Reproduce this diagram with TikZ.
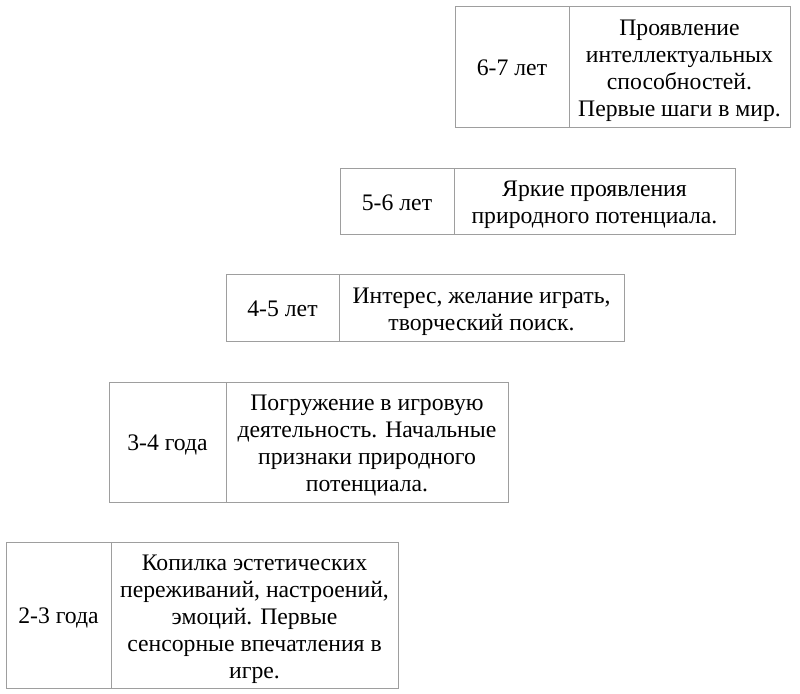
\documentclass[tikz,border=0pt]{standalone}
\usepackage{fontspec}
\setmainfont{Liberation Serif}
\newfontfamily\tnr{Liberation Serif}
\begin{document}
\begin{tikzpicture}[x=1pt,y=-1pt,
  cell/.style={draw=black!38, line width=0.9pt, inner sep=0pt},
  txt/.style={inner sep=0pt, align=center, text=black,
    font=\tnr\fontsize{23.7}{27}\selectfont}]
\useasboundingbox (0,0) rectangle (800,693);
% 6-7
\node[cell, minimum width=114pt, minimum height=121pt] (a67) at (512,66.5) {};
\node[cell, minimum width=221pt, minimum height=121pt] (b67) at (679.5,66.5) {};
\node[txt] (ta67) at ([yshift=-1.5pt]a67.center) {6-7 лет};
\node[txt] (tb67) at ([yshift=-4.25pt]b67.center) {Проявление\\интеллектуальных\\способностей.\\Первые шаги в мир.};
% 5-6
\node[cell, minimum width=114pt, minimum height=66pt] (a56) at (397,201) {};
\node[cell, minimum width=281pt, minimum height=66pt] (b56) at (594.5,201) {};
\node[txt] (ta56) at ([yshift=-1.5pt]a56.center) {5-6 лет};
\node[txt] (tb56) at ([yshift=-4.25pt]b56.center) {Яркие проявления\\природного потенциала.};
% 4-5
\node[cell, minimum width=113pt, minimum height=67pt] (a45) at (282.5,307.5) {};
\node[cell, minimum width=285pt, minimum height=67pt] (b45) at (481.5,307.5) {};
\node[txt] (ta45) at ([yshift=-1.5pt]a45.center) {4-5 лет};
\node[txt] (tb45) at ([yshift=-4.25pt]b45.center) {Интерес, желание играть,\\творческий поиск.};
% 3-4
\node[cell, minimum width=117pt, minimum height=120pt] (a34) at (167.5,442) {};
\node[cell, minimum width=282pt, minimum height=120pt] (b34) at (367,442) {};
\node[txt] (ta34) at ([yshift=-3pt]a34.center) {3-4 года};
\node[txt] (tb34) at ([yshift=-3.75pt]b34.center) {Погружение в игровую\\деятельность. Начальные\\признаки природного\\потенциала.};
% 2-3
\node[cell, minimum width=105pt, minimum height=146pt] (a23) at (58.5,615) {};
\node[cell, minimum width=287pt, minimum height=146pt] (b23) at (254.5,615) {};
\node[txt] (ta23) at ([yshift=-3pt]a23.center) {2-3 года};
\node[txt] (tb23) at ([yshift=-4.25pt]b23.center) {Копилка эстетических\\переживаний, настроений,\\эмоций. Первые\\сенсорные впечатления в\\игре.};
\end{tikzpicture}
\end{document}
